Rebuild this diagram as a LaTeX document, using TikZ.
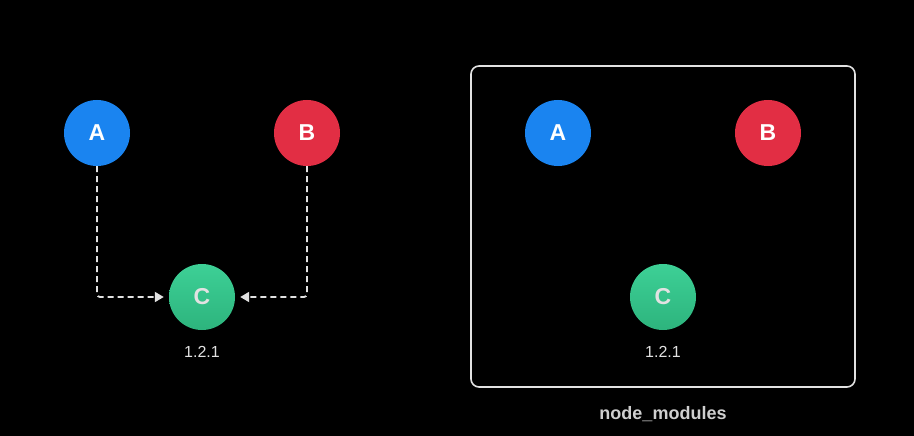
\documentclass[tikz,border=0pt]{standalone}
\usepackage{fontspec}
\setmainfont{Liberation Sans}
\usetikzlibrary{arrows.meta}
\definecolor{pkgblue}{HTML}{1A84F0}
\definecolor{pkgred}{HTML}{E22E44}
\definecolor{pkggreentop}{HTML}{3DD096}
\definecolor{pkggreenbot}{HTML}{2DB47D}
\definecolor{lightgray}{HTML}{E2E2E2}
\definecolor{labelgray}{HTML}{CFCFCF}

\begin{document}
\begin{tikzpicture}[x=1pt, y=-1pt,
  pkg/.style={circle, minimum size=66pt, inner sep=0pt, text=white,
    font=\bfseries\fontsize{23}{23}\selectfont},
  dep/.style={draw=lightgray, line width=1.8pt, dash pattern=on 6pt off 4pt,
    rounded corners=3pt, shorten >=5pt, -{Triangle[length=9pt,width=10pt]}},
  ver/.style={text=lightgray, font=\fontsize{16}{16}\selectfont}]
  \useasboundingbox[fill=black] (0,0) rectangle (914,436);
  % the same three packages, nested (l) and flattened (r)
  \foreach \s/\dx in {l/0, r/461} {
    \node[pkg, fill=pkgblue] (A\s) at (97+\dx,133) {A};
    \node[pkg, fill=pkgred] (B\s) at (307+\dx,133) {B};
    \node[pkg, top color=pkggreentop, bottom color=pkggreenbot, text=lightgray] (C\s) at (202+\dx,297) {C};
    \node[ver] (v\s) at (202+\dx,352) {1.2.1};
  }
  \draw[dep] (Al.south) |- (Cl);
  \draw[dep] (Bl.south) |- (Cl);
  \node[draw=lightgray, line width=1.6pt, rounded corners=8pt, minimum width=384pt,
    minimum height=321pt] (modules) at (663,226.5) {};
  \node[text=labelgray, font=\bfseries\fontsize{18}{18}\selectfont] (modlabel) at (663,414) {node\_modules};
\end{tikzpicture}
\end{document}
